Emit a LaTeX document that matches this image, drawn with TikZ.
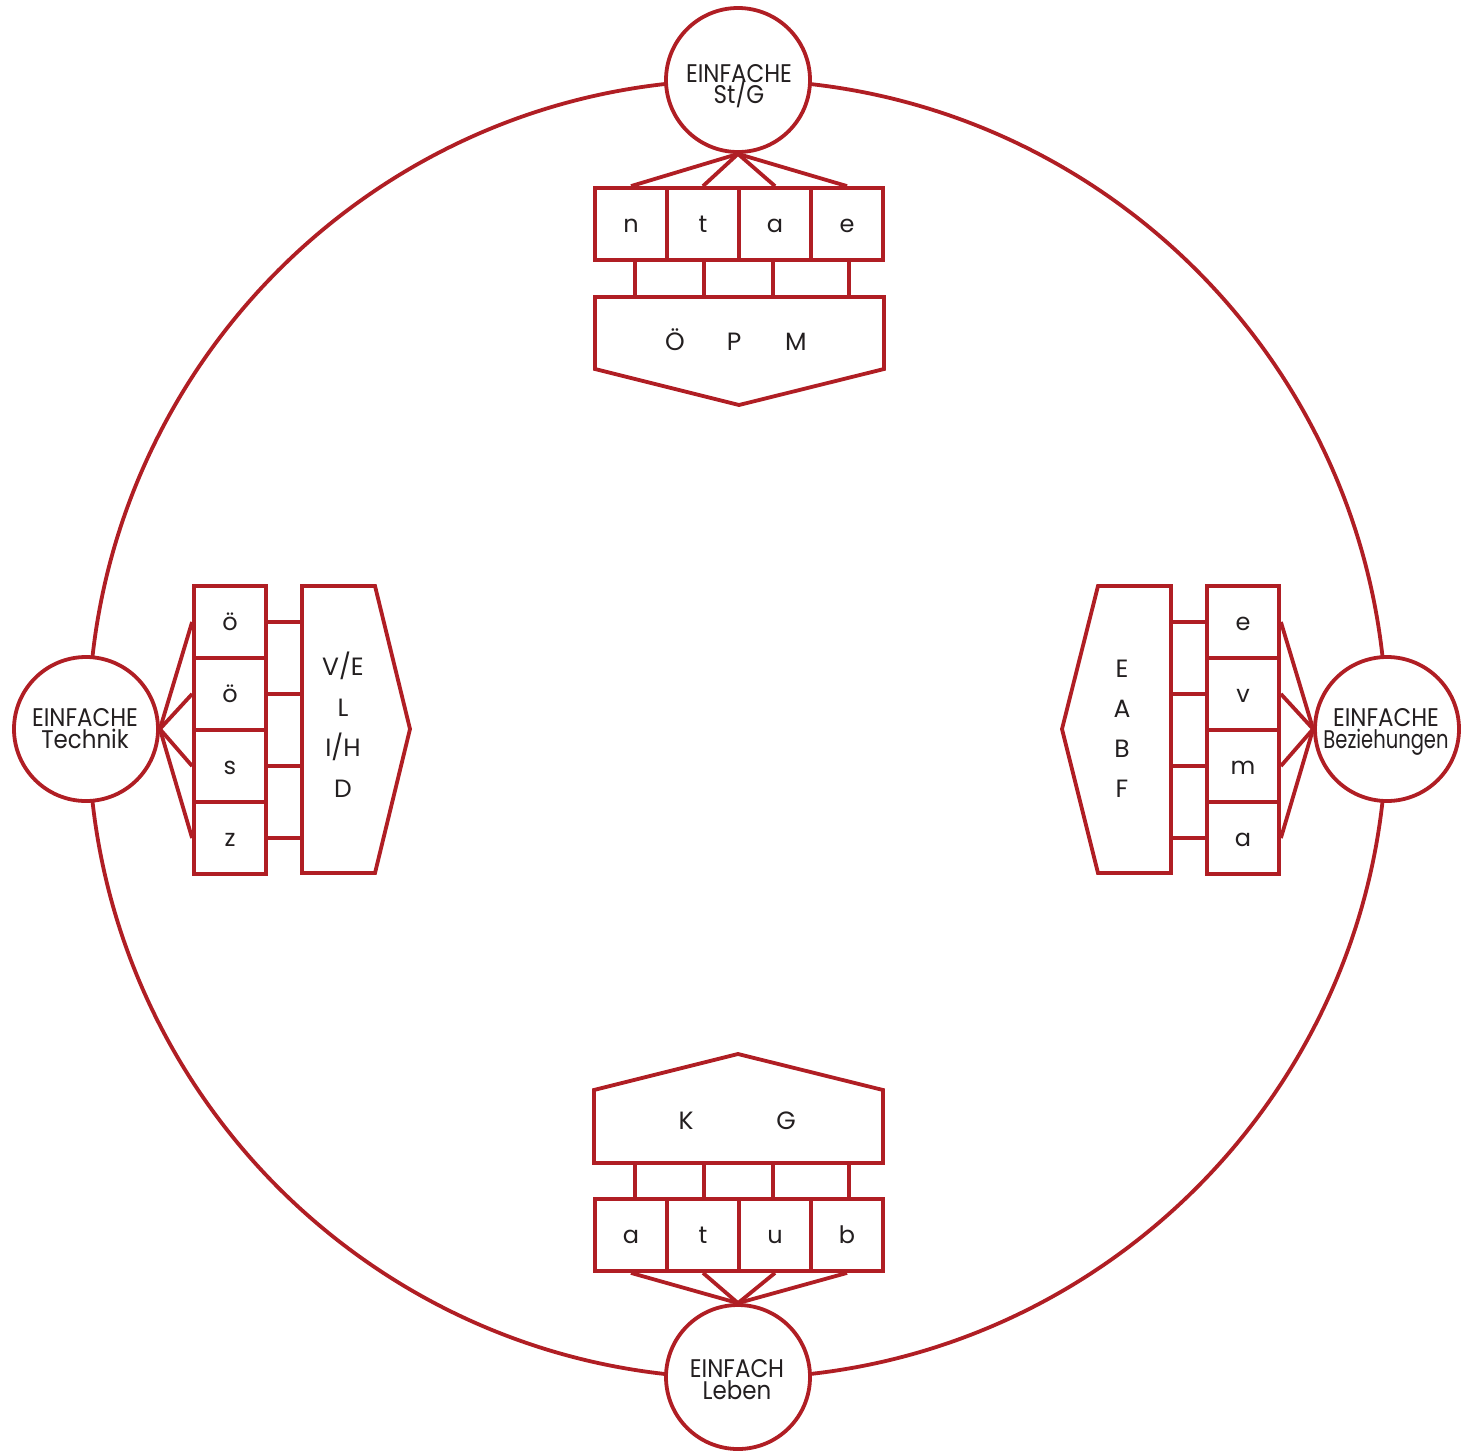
\documentclass[tikz,border=0pt]{standalone}
\usepackage{fontspec}
\setmainfont{Poppins}
\newfontfamily\cfont[FakeStretch=0.9]{Poppins}
\usetikzlibrary{calc}
\definecolor{dred}{RGB}{176,30,36}
\definecolor{ink}{RGB}{35,31,32}
\pgfdeclarelayer{bg}
\pgfsetlayers{bg,main}
\begin{document}
\begin{tikzpicture}[x=1pt,y=-1pt,
  ln/.style={draw=dred,line width=3.8pt,line join=miter},
  circ/.style={ln,circle,fill=white,minimum size=144pt,inner sep=0pt},
  sq/.style={ln,fill=white,minimum size=72pt,inner sep=0pt,text height=17pt,text depth=0pt,text=ink,font=\fontsize{24}{24}\selectfont},
  ctext/.style={anchor=base,inner sep=0pt,text=ink,font=\cfont\fontsize{25.5}{20}\selectfont},
  ptext/.style={anchor=base,inner sep=0pt,text=ink,font=\fontsize{25}{25}\selectfont}]
\useasboundingbox (0,0) rectangle (1474,1451);

% ---------- small circles ----------
\node[circ] (top) at (738,80) {};
\node[circ] (bot) at (738,1377) {};
\node[circ] (lc) at (86,729) {};
\node[circ] (rc) at (1387,729) {};
\node[ctext] (topA) at (739,82) {EINFACHE};
\node[ctext] (topB) at (739,103) {St/G};
\node[ctext] (botA) at (737,1377) {EINFACH};
\node[ctext] (botB) at (737,1399) {Leben};
\node[ctext] (lcA) at (85,726) {EINFACHE};
\node[ctext] (lcB) at (85,748) {Technik};
\node[ctext] (rcA) at (1386,726) {EINFACHE};
\node[ctext] (rcB) at (1386,748) {\scalebox{0.85}[1]{Beziehungen}};

% ---------- top group ----------
\node[sq] (t1) at (631,224) {n};
\node[sq] (t2) at (703,224) {t};
\node[sq] (t3) at (775,224) {a};
\node[sq] (t4) at (847,224) {e};
\draw[ln,fill=white] (595,297) -- (884,297) -- (884,369) -- (739,405) -- (595,369) -- cycle;
\coordinate (tp) at (739,297);
\node[ptext] (tpa) at (675,350) {Ö};
\node[ptext] (tpb) at (734,350) {P};
\node[ptext] (tpc) at (796,350) {M};

% ---------- bottom group ----------
\node[sq] (b1) at (631,1235) {a};
\node[sq] (b2) at (703,1235) {t};
\node[sq] (b3) at (775,1235) {u};
\node[sq] (b4) at (847,1235) {b};
\draw[ln,fill=white] (594,1163) -- (594,1090) -- (738,1054) -- (883,1090) -- (883,1163) -- cycle;
\coordinate (bp) at (738,1163);
\node[ptext] (bpa) at (686,1129) {K};
\node[ptext] (bpb) at (786,1129) {G};

% ---------- left group ----------
\node[sq] (l1) at (230,622) {ö};
\node[sq] (l2) at (230,694) {ö};
\node[sq] (l3) at (230,766) {s};
\node[sq] (l4) at (230,838) {z};
\draw[ln,fill=white] (302,586) -- (375,586) -- (410,729) -- (375,873) -- (302,873) -- cycle;
\coordinate (lp) at (302,729);
\node[ptext] (lpa) at (343,675) {V/E};
\node[ptext] (lpb) at (343,716) {L};
\node[ptext] (lpc) at (343,756) {I/H};
\node[ptext] (lpd) at (343,797) {D};

% ---------- right group ----------
\node[sq] (r1) at (1243,622) {e};
\node[sq] (r2) at (1243,694) {v};
\node[sq] (r3) at (1243,766) {m};
\node[sq] (r4) at (1243,838) {a};
\draw[ln,fill=white] (1171,586) -- (1098,586) -- (1062,729) -- (1098,873) -- (1171,873) -- cycle;
\coordinate (rp) at (1171,729);
\node[ptext] (rpa) at (1122,677) {E};
\node[ptext] (rpb) at (1122,717) {A};
\node[ptext] (rpc) at (1122,757) {B};
\node[ptext] (rpd) at (1122,797) {F};

\begin{pgfonlayer}{bg}
  \fill[white] (0,0) rectangle (1474,1451);
  \draw[ln] (737.5,729) circle[radius=649];
  % top
  \foreach \b/\dx in {t1/4,t2/1,t3/-2,t4/2}{
    \path ($(\b.south)+(\dx,0)$) coordinate (tmp);
    \draw[ln] (tmp) -- (tmp |- tp);
    \draw[ln] (top.south) -- (\b.north);
  }
  % bottom
  \foreach \b/\dx in {b1/4,b2/1,b3/-2,b4/2}{
    \path ($(\b.north)+(\dx,0)$) coordinate (tmp);
    \draw[ln] (tmp) -- (tmp |- bp);
    \draw[ln] (bot.north) -- (\b.south);
  }
  % left
  \foreach \b in {l1,l2,l3,l4}{
    \draw[ln] (\b.east) -- (\b.east -| lp);
    \draw[ln] (lc.east) -- (\b.west);
  }
  % right
  \foreach \b in {r1,r2,r3,r4}{
    \draw[ln] (\b.west) -- (\b.west -| rp);
    \draw[ln] (rc.west) -- (\b.east);
  }
\end{pgfonlayer}
\end{tikzpicture}
\end{document}
